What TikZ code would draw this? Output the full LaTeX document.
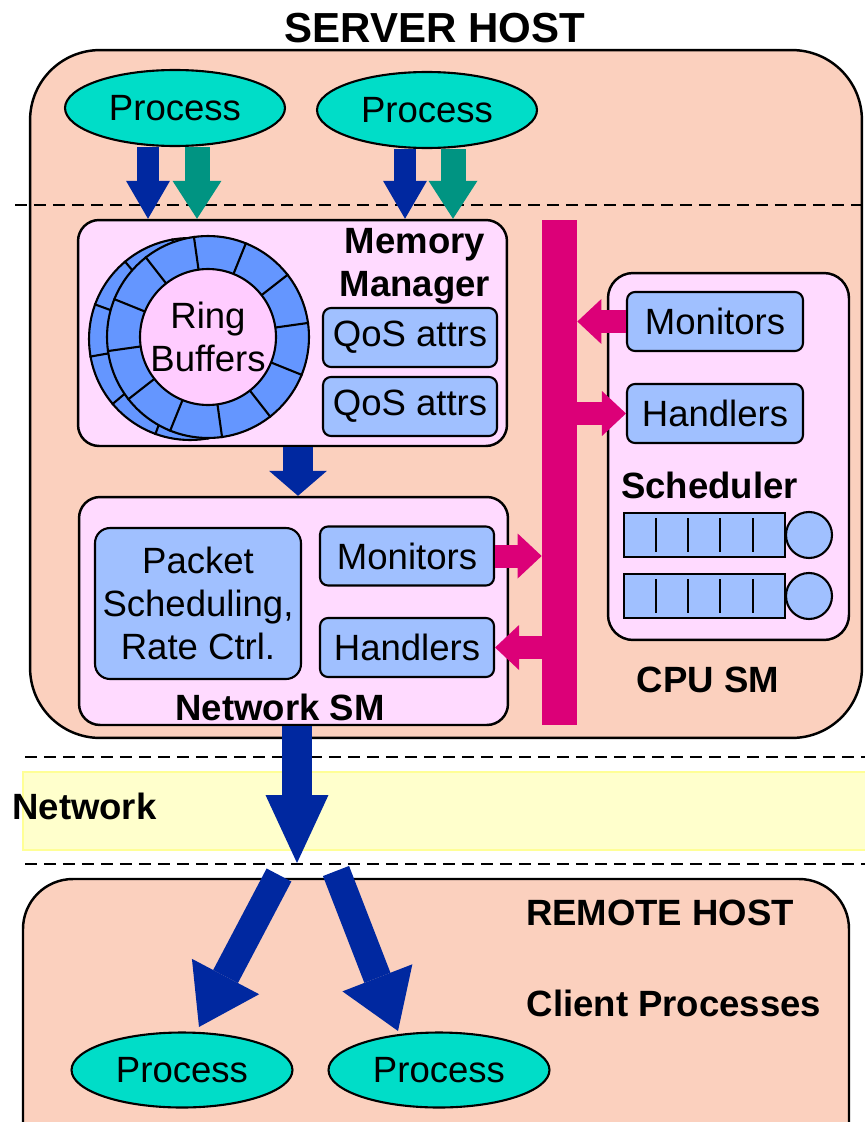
\documentclass[tikz,border=0pt]{standalone}
\usepackage{fontspec}
\setmainfont{Liberation Sans}
\usepackage{tikz}
\usetikzlibrary{shapes, arrows.meta, calc}
\definecolor{hostpeach}{RGB}{251,208,190}
\definecolor{smpink}{RGB}{255,218,255}
\definecolor{procteal}{RGB}{0,221,200}
\definecolor{flowblue}{RGB}{0,40,160}
\definecolor{flowteal}{RGB}{0,148,130}
\definecolor{busmagenta}{RGB}{220,0,120}
\definecolor{attrblue}{RGB}{160,192,255}
\definecolor{ringblue}{RGB}{100,150,255}
\definecolor{ringpink}{RGB}{255,204,255}
\definecolor{netyellow}{RGB}{255,255,204}
\definecolor{netedge}{RGB}{255,255,150}
\newcommand\boxfont{\fontsize{20.8}{24.5}\selectfont}
\newcommand\headfont{\fontsize{23.9}{28}\selectfont\bfseries}
\tikzset{% 
    hostbox/.style={%
        draw, line width=1.4pt, fill=hostpeach, rounded corners=1.4cm, inner sep=0pt
    }
}
\tikzset{% 
    SM/.style={%
        draw, line width=1.4pt, fill=smpink, rounded corners=0.42cm, inner sep=0pt
    }
}
\tikzset{% 
    proc/.style={%
        draw, ellipse, line width=1.2pt, fill=procteal, minimum width=4.4cm, minimum height=1.52cm, inner sep=0pt
    }
}
\tikzset{% 
    flow/.style n args={3}{%
        line width=#1, -{Triangle[width=#2, length=#3, line width=0pt]}
    }
}
\tikzstyle{attr}=[draw, line width=1.2pt, fill=attrblue, rounded corners=0.16cm,
    minimum width=3.48cm, minimum height=1.18cm, inner sep=0pt]
\tikzstyle{lbl}=[inner sep=0pt, align=center, font={\boxfont\bfseries}]
\tikzstyle{ring}=[draw, circle, line width=1.2pt, fill=ringblue, minimum size=4.04cm, inner sep=0pt]
\tikzstyle{sep}=[line width=1.1pt, dash pattern=on 0.24cm off 0.14cm]
\tikzstyle{qbox}=[draw, line width=1.2pt, fill=attrblue]

\begin{document}
\begin{tikzpicture}[x=0.02cm, y=-0.02cm, every node/.style={font=\boxfont}]
  \useasboundingbox (0,0) rectangle (865,1122);

  % server host
  \node[hostbox, minimum width=16.64cm, minimum height=13.76cm] (SH) at (446,394) {};
  \node[lbl, font=\headfont] (SHt) at (435,28) {SERVER HOST};
  \draw[sep] (15,205) -- (862,205);

  \node[proc] (P1) at (175,108) {Process};
  \node[proc] (P2) at (427,110) {Process};

  % memory manager
  \node[SM, minimum width=8.58cm, minimum height=4.52cm] (MM) at (292.5,333) {};
  \node[lbl] (MMt) at (415,266) {Memory\\Manager};
  \node[attr] (Q1) at (410,337.5) {QoS attrs};
  \node[attr] (Q2) at (410,406.5) {QoS attrs};

  \node[ring] (RBback) at (190,339) {};
  \foreach \a in {10,40,...,340} \draw[line width=1.2pt] (RBback.center) -- (RBback.\a);
  \node[ring] (RBfront) at (208,337) {};
  \foreach \a in {8,38,...,338} \draw[line width=1.2pt] (RBfront.center) -- (RBfront.\a);
  \node[draw, circle, line width=1.2pt, fill=ringpink, minimum size=2.72cm, inner sep=0pt, align=center] (RB) at (208,337) {Ring\\Buffers};

  \coordinate (b1) at (148,0);
  \coordinate (t1) at (197,0);
  \coordinate (b2) at (405,0);
  \coordinate (t2) at (453,0);
  \draw[flow={0.44cm}{0.88cm}{0.76cm}, color=flowblue] (P1.south -| b1) -- (MM.north -| b1);
  \draw[flow={0.5cm}{0.98cm}{0.76cm}, color=flowteal] (P1.south -| t1) -- (MM.north -| t1);
  \draw[flow={0.44cm}{0.88cm}{0.76cm}, color=flowblue] (P2.south -| b2) -- (MM.north -| b2);
  \draw[flow={0.5cm}{0.98cm}{0.76cm}, color=flowteal] (P2.south -| t2) -- (MM.north -| t2);

  % network SM
  \node[SM, minimum width=8.58cm, minimum height=4.56cm] (Net) at (293.5,611) {};
  \node[attr, minimum width=4.12cm, minimum height=3.02cm, rounded corners=0.3cm, align=center] (PS) at (198,603.5) {Packet\\Scheduling,\\Rate Ctrl.};
  \node[attr] (NMon) at (407,556) {Monitors};
  \node[attr] (NHand) at (407,647.5) {Handlers};
  \node[lbl] (NSt) at (280,707) {Network SM};

  \coordinate (m1) at (298,0);
  \draw[flow={0.6cm}{1.16cm}{0.5cm}, color=flowblue] (MM.south -| m1) -- (Net.north -| m1);

  % CPU SM
  \node[fill=busmagenta, minimum width=0.7cm, minimum height=10.1cm, inner sep=0pt] (Bus) at (559.5,472.5) {};
  \node[SM, minimum width=4.82cm, minimum height=7.34cm, rounded corners=0.5cm] (CPU) at (728.5,456.5) {};
  \node[attr, minimum width=3.52cm] (CMon) at (715,321.5) {Monitors};
  \node[attr, minimum width=3.52cm] (CHand) at (715,413.5) {Handlers};
  \node[lbl] (Sch) at (709.5,485) {Scheduler};
  \foreach \qy in {535,596} {
    \draw[qbox] (624,\qy-22) rectangle (785,\qy+22);
    \foreach \qx in {656,688,720,753} \draw[line width=1.2pt] (\qx,\qy-17) -- (\qx,\qy+17);
    \draw[qbox] (809,\qy) circle (23);
  }
  \node[lbl] (CPUt) at (708,680) {CPU SM};

  \draw[flow={0.46cm}{0.9cm}{0.48cm}, color=busmagenta] (CMon.west) -- (Bus.east |- CMon.west);
  \draw[flow={0.46cm}{0.9cm}{0.48cm}, color=busmagenta] (Bus.east |- CHand.west) -- (CHand.west);
  \draw[flow={0.46cm}{0.9cm}{0.48cm}, color=busmagenta] (NMon.east) -- (Bus.west |- NMon.east);
  \draw[flow={0.46cm}{0.9cm}{0.48cm}, color=busmagenta] (Bus.west |- NHand.east) -- (NHand.east);

  % network
  \draw[sep] (25,757) -- (865,757);
  \draw[fill=netyellow, draw=netedge, line width=0.8pt] (23,772) rectangle (866,850);
  \draw[sep] (25,864) -- (865,864);
  \node[lbl, anchor=west] (NetL) at (12,806) {Network};

  \coordinate (n1) at (297,0);
  \coordinate (ntip) at (297,863);
  \draw[flow={0.6cm}{1.26cm}{1.36cm}, color=flowblue] (Net.south -| n1) -- (ntip);

  % remote host
  \draw[line width=1.4pt, fill=hostpeach, rounded corners=1cm] (23,1160) -- (23,879) -- (849,879) -- (849,1160);
  \node[lbl] (RHt) at (660,913) {REMOTE HOST};
  \node[lbl] (CPt) at (674,1003) {Client Processes};
  \node[proc, minimum width=4.42cm, minimum height=1.5cm] (R1) at (182,1070) {Process};
  \node[proc, minimum width=4.42cm, minimum height=1.5cm] (R2) at (439,1070) {Process};

  \coordinate (tailL) at (279,875);
  \coordinate (tailR) at (336,871);
  \draw[flow={0.56cm}{1.52cm}{1.14cm}, color=flowblue] (tailL) -- ([xshift=0.34cm, yshift=0.09cm]R1.north);
  \draw[flow={0.56cm}{1.5cm}{1.14cm}, color=flowblue] (tailR) -- ([xshift=-0.82cm, yshift=0.01cm]R2.north);
\end{tikzpicture}
\end{document}
